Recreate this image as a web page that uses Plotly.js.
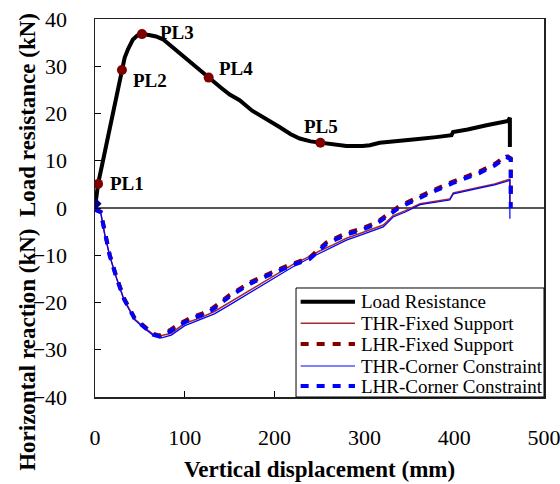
<!DOCTYPE html>
<html>
<head>
<meta charset="utf-8">
<script src="https://cdn.plot.ly/plotly-3.0.1.min.js"></script>
<style>html,body{margin:0;padding:0;background:#fff;}#chart{width:560px;height:484px;}</style>
</head>
<body>
<div id="chart"></div>
<script>
// Load resistance curve (mm, kN)
const loadX = [0, 3.4, 9, 14.5, 20, 25.6, 30, 33, 36.7, 42, 47, 52.3, 60, 68, 75.7, 82, 88.8, 100, 113, 126.6, 140, 150, 161, 175, 190.9, 205, 218, 228, 240, 251, 265, 280, 298, 306, 317, 330, 343, 360, 380, 397, 398.7, 415, 436, 450, 460, 462, 462];
const loadY = [0, 5.1, 10.1, 15.0, 20.0, 24.9, 29.2, 31.8, 33.6, 35.6, 36.5, 36.8, 36.6, 36.3, 35.7, 34.7, 33.4, 31.6, 29.8, 27.6, 25.5, 24.0, 22.8, 20.6, 18.9, 17.2, 15.6, 14.7, 14.1, 13.8, 13.4, 13.1, 13.1, 13.3, 13.8, 14.0, 14.3, 14.6, 15.0, 15.4, 16.1, 16.6, 17.5, 17.9, 18.4, 19.1, 12.9];

// Points of interest
const plX = [3.4, 30, 52.3, 126.6, 251];
const plY = [5.1, 29.2, 36.8, 27.6, 13.8];
const plLabels = ['PL1', 'PL2', 'PL3', 'PL4', 'PL5'];

// Thin horizontal reaction curves
const thrFixedX = [0, 1.5, 6.3, 10.8, 16.4, 23.8, 32.3, 44.2, 55, 64.6, 72, 85, 100, 116.6, 133, 150, 165, 180, 202, 220, 235, 250, 265, 280, 295, 313, 321, 332, 345, 362, 380, 395, 399, 415, 428, 445, 460, 462, 462];
const thrFixedY = [0, -0.5, -0.9, -5.5, -10.1, -14.7, -19.3, -23.5, -25.3, -26.7, -27.1, -26.5, -24.4, -23.3, -21.9, -20.0, -18.2, -16.6, -14.1, -12.0, -10.6, -9.1, -7.8, -6.4, -5.4, -4.2, -3.6, -1.6, -0.6, 0.9, 1.4, 1.9, 3.2, 3.8, 4.4, 5.1, 5.9, 6.1, 0.3];
const thrCornerX = [0, 1.5, 6.3, 10.8, 16.4, 23.8, 32.3, 44.2, 55, 64.6, 74, 85, 100, 116.6, 133, 150, 165, 180, 202, 220, 235, 250, 265, 280, 295, 313, 321, 332, 345, 362, 380, 395, 399, 415, 428, 445, 460, 462, 462];
const thrCornerY = [0, -0.5, -0.9, -5.6, -10.2, -14.8, -19.5, -23.7, -25.5, -26.9, -27.5, -26.9, -24.9, -23.7, -22.4, -20.5, -18.8, -17.1, -14.6, -12.5, -11.0, -9.6, -8.2, -6.8, -5.8, -4.5, -4.0, -1.9, -0.9, 0.7, 1.2, 1.7, 3.0, 3.6, 4.2, 4.9, 5.7, 6.0, -2.3];

// Thick dashed horizontal reaction curves
const lhrFixedX = [0, 1.5, 6.3, 10.8, 16.4, 23.8, 32.3, 44.2, 55, 64.6, 72, 83, 95, 109, 120, 131, 150, 174, 196, 217, 239, 257.7, 280, 295, 313, 339, 369, 398.7, 428, 445, 458, 463, 463];
const lhrFixedY = [0, -0.4, -0.8, -5.3, -9.9, -14.5, -19.1, -23.3, -25.2, -26.6, -27.0, -25.9, -24.4, -23.0, -22.3, -21.2, -18.4, -15.6, -13.7, -12.0, -10.5, -7.3, -5.3, -4.5, -3.1, 0.4, 3.1, 5.6, 7.7, 9.3, 11.1, 10.5, 2.0];
const lhrCornerX = [0, 1.5, 6.3, 10.8, 16.4, 23.8, 32.3, 44.2, 55, 64.6, 72, 83, 95, 109, 120, 131, 150, 174, 196, 217, 239, 257.7, 280, 295, 313, 339, 369, 398.7, 428, 445, 458, 463, 463];
const lhrCornerY = [0, -0.5, -0.9, -5.5, -10.1, -14.7, -19.3, -23.5, -25.3, -26.8, -27.2, -26.2, -24.7, -23.3, -22.6, -21.5, -18.7, -15.9, -14.0, -12.3, -10.8, -7.6, -5.6, -4.8, -3.4, 0.1, 2.8, 5.3, 7.4, 9.0, 10.8, 10.3, 0.0];

const originX = [1.5];
const originY = [0.9];

const seriesNames = ['Load Resistance', 'THR-Fixed Support', 'LHR-Fixed Support', 'THR-Corner Constraint', 'LHR-Corner Constraint'];

const serif = 'Liberation Serif, Times New Roman, serif';
const darkRed = '#800000';
const lineStyles = [
  {color: '#000', width: 4},
  {color: '#a52a2a', width: 1.5},
  {color: darkRed, width: 4, dash: '8px,8px'},
  {color: '#0000ff', width: 1.2},
  {color: '#0000ff', width: 4, dash: '8px,8px'}
];
const seriesX = [loadX, thrFixedX, lhrFixedX, thrCornerX, lhrCornerX];
const seriesY = [loadY, thrFixedY, lhrFixedY, thrCornerY, lhrCornerY];

const traces = seriesNames.map((n, i) => ({
  x: seriesX[i], y: seriesY[i], mode: 'lines', name: n, line: lineStyles[i], showlegend: false
}));
traces.push({x: originX, y: originY, mode: 'markers', showlegend: false, marker: {symbol: 'diamond', size: 8, color: '#000080'}});
traces.push({x: plX, y: plY, mode: 'markers', showlegend: false, marker: {size: 10, color: darkRed}});

const shifts = [[10, 0], [9, -10], [16, 2], [8, 9], [-18, 16]];
const annotations = plLabels.map((t, i) => ({
  x: plX[i], y: plY[i], xref: 'x', yref: 'y', text: '<b>' + t + '</b>', showarrow: false,
  xanchor: 'left', yanchor: 'middle', xshift: shifts[i][0], yshift: shifts[i][1],
  font: {family: serif, size: 19, color: '#000'}
}));
annotations.push({
  xref: 'paper', yref: 'paper', x: -0.151, y: 0.411, xanchor: 'center', yanchor: 'middle',
  text: '<b>Horizontal reaction (kN)  Load resistance (kN)</b>', textangle: -90, showarrow: false,
  font: {family: serif, size: 23, color: '#000'}
});

// Legend box drawn in paper coordinates (bottom-right of the plot)
const shapes = [{
  type: 'rect', xref: 'paper', yref: 'paper', x0: 0.4477, x1: 1, y0: 0, y1: 0.2884,
  line: {color: '#000', width: 1}, fillcolor: '#fff', layer: 'above'
}];
const rowY = [0.2521, 0.195, 0.1402, 0.082, 0.0291];
seriesNames.forEach((n, i) => {
  shapes.push({
    type: 'line', xref: 'paper', yref: 'paper', x0: 0.458, x1: 0.579, y0: rowY[i], y1: rowY[i],
    line: lineStyles[i], layer: 'above'
  });
  annotations.push({
    xref: 'paper', yref: 'paper', x: 0.589, y: rowY[i], xanchor: 'left', yanchor: 'middle',
    text: n, showarrow: false, font: {family: serif, size: 19, color: '#000'}
  });
});

const layout = {
  width: 560, height: 484,
  margin: {l: 95, r: 16, t: 19, b: 87},
  paper_bgcolor: '#fff', plot_bgcolor: '#fff',
  showlegend: false,
  xaxis: {
    range: [0, 500], dtick: 100, tick0: 0, ticks: 'inside', ticklen: 6, tickcolor: '#000',
    showgrid: false, zeroline: false, showline: true, linecolor: '#222', linewidth: 1.5, mirror: true,
    ticklabelstandoff: 20, ticklabeloverflow: 'allow',
    tickfont: {family: serif, size: 22, color: '#000'},
    title: {text: '<b>Vertical displacement (mm)</b>', standoff: 12, font: {family: serif, size: 23, color: '#000'}}
  },
  yaxis: {
    range: [-40, 40], dtick: 10, tick0: 0, ticks: 'inside', ticklen: 6, tickcolor: '#000',
    showgrid: false, zeroline: true, zerolinecolor: '#555', zerolinewidth: 1.5,
    showline: true, linecolor: '#222', linewidth: 1.5, mirror: true,
    ticklabelstandoff: 22, ticklabeloverflow: 'allow',
    tickfont: {family: serif, size: 22, color: '#000'}
  },
  shapes: shapes,
  annotations: annotations
};

Plotly.newPlot('chart', traces, layout, {displayModeBar: false, staticPlot: true});
</script>
</body>
</html>
